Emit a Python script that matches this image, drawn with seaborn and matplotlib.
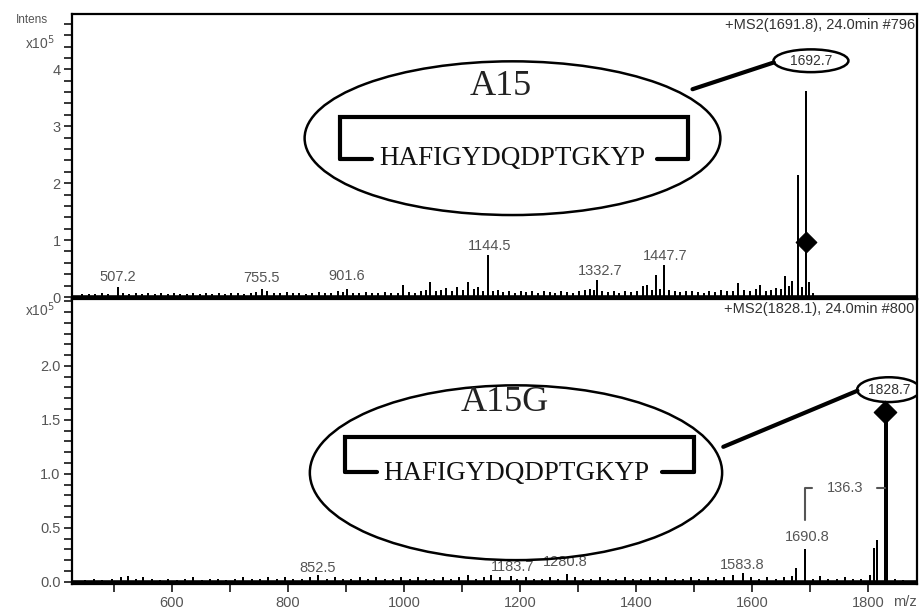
import matplotlib
matplotlib.use("Agg")
import matplotlib.pyplot as plt
import pandas as pd
import seaborn as sns
from matplotlib.patches import Ellipse
from matplotlib.ticker import FixedLocator, MultipleLocator, FormatStrFormatter

# MS2 spectrum of A15 (precursor 1691.8), intensities in units of 1e5
top_mz = [
    445, 457, 468, 480, 491, 507.2, 516, 527, 538, 549,
    560, 571, 582, 593, 604, 615, 626, 637, 648, 659,
    670, 681, 692, 703, 714, 725, 736, 745, 755.5, 765,
    776, 787, 798, 809, 820, 831, 842, 853, 864, 875,
    886, 895, 901.6, 912, 923, 934, 945, 956, 967, 978,
    989, 999, 1008, 1019, 1030, 1038, 1045, 1055, 1064, 1073,
    1082, 1091, 1101, 1111, 1120, 1128, 1136, 1144.5, 1153, 1162,
    1171, 1181, 1191, 1201, 1211, 1221, 1231, 1241, 1251, 1261,
    1271, 1281, 1291, 1301, 1311, 1320, 1327, 1332.7, 1341, 1351,
    1361, 1371, 1381, 1391, 1401, 1411, 1418, 1427, 1434, 1441,
    1447.7, 1456, 1466, 1476, 1486, 1496, 1506, 1516, 1526, 1536,
    1546, 1556, 1566, 1576, 1586, 1596, 1606, 1614, 1623, 1632,
    1641, 1650, 1657, 1664, 1669, 1678, 1685, 1692.7, 1698, 1704,
]
top_int = [
    0.03, 0.04, 0.03, 0.05, 0.04, 0.15, 0.06, 0.04, 0.05, 0.03,
    0.05, 0.04, 0.06, 0.03, 0.05, 0.04, 0.03, 0.06, 0.04, 0.05,
    0.03, 0.05, 0.04, 0.06, 0.05, 0.04, 0.06, 0.07, 0.13, 0.08,
    0.06, 0.05, 0.07, 0.05, 0.06, 0.04, 0.05, 0.07, 0.05, 0.06,
    0.08, 0.07, 0.12, 0.06, 0.05, 0.07, 0.06, 0.05, 0.07, 0.06,
    0.05, 0.20, 0.07, 0.06, 0.08, 0.10, 0.24, 0.09, 0.11, 0.14,
    0.09, 0.16, 0.11, 0.25, 0.12, 0.16, 0.09, 0.72, 0.08, 0.10,
    0.07, 0.09, 0.06, 0.08, 0.07, 0.09, 0.06, 0.08, 0.07, 0.06,
    0.09, 0.07, 0.06, 0.08, 0.10, 0.12, 0.11, 0.28, 0.09, 0.07,
    0.08, 0.06, 0.09, 0.07, 0.08, 0.17, 0.19, 0.10, 0.37, 0.12,
    0.54, 0.10, 0.08, 0.07, 0.09, 0.08, 0.07, 0.06, 0.09, 0.07,
    0.10, 0.08, 0.09, 0.23, 0.11, 0.08, 0.12, 0.20, 0.09, 0.11,
    0.14, 0.12, 0.35, 0.18, 0.27, 2.12, 0.15, 3.60, 0.25, 0.05,
]

# MS2 spectrum of A15G (precursor 1828.1)
bot_mz = [
    450, 466, 480, 497, 512, 524, 538, 551, 566, 580,
    594, 609, 623, 637, 652, 666, 680, 694, 709, 723,
    738, 752, 766, 781, 795, 809, 824, 838, 852.5, 867,
    881, 895, 909, 924, 938, 952, 967, 981, 995, 1010,
    1024, 1038, 1052, 1067, 1081, 1095, 1110, 1124, 1138, 1150,
    1165, 1183.7, 1195, 1210, 1224, 1238, 1252, 1266, 1280.8, 1295,
    1309, 1323, 1338, 1352, 1366, 1381, 1395, 1409, 1424, 1438,
    1452, 1466, 1481, 1495, 1509, 1523, 1538, 1552, 1566, 1583.8,
    1597, 1611, 1625, 1640, 1654, 1668, 1676, 1690.8, 1704, 1716,
    1730, 1745, 1759, 1773, 1788, 1803, 1810, 1814, 1828.7, 1831.5,
    1845, 1860,
]
bot_int = [
    0.01, 0.02, 0.01, 0.02, 0.03, 0.04, 0.02, 0.03, 0.02, 0.01,
    0.02, 0.01, 0.02, 0.03, 0.01, 0.02, 0.02, 0.01, 0.02, 0.03,
    0.02, 0.02, 0.03, 0.02, 0.03, 0.02, 0.02, 0.03, 0.05, 0.02,
    0.03, 0.02, 0.02, 0.03, 0.02, 0.03, 0.02, 0.02, 0.03, 0.02,
    0.03, 0.02, 0.02, 0.03, 0.02, 0.03, 0.05, 0.02, 0.03, 0.05,
    0.03, 0.04, 0.02, 0.03, 0.02, 0.02, 0.03, 0.02, 0.06, 0.03,
    0.02, 0.02, 0.03, 0.02, 0.02, 0.03, 0.02, 0.02, 0.03, 0.02,
    0.03, 0.02, 0.02, 0.03, 0.02, 0.03, 0.02, 0.03, 0.05, 0.07,
    0.03, 0.02, 0.03, 0.02, 0.03, 0.04, 0.12, 0.29, 0.02, 0.04,
    0.02, 0.02, 0.03, 0.02, 0.02, 0.05, 0.30, 0.38, 1.66, 1.66,
    0.02, 0.01,
]

top_labels = ["507.2", "755.5", "901.6", "1144.5", "1332.7", "1447.7"]
top_label_x = [507, 755, 901, 1148, 1338, 1450]
top_label_y = [0.35, 0.33, 0.37, 0.89, 0.46, 0.72]

bot_labels = ["852.5", "1183.7", "1280.8", "1583.8", "1690.8"]
bot_label_x = [852, 1188, 1277, 1583, 1694]
bot_label_y = [0.13, 0.14, 0.185, 0.155, 0.41]

top_yticks = [0, 1, 2, 3, 4]
bot_yticks = [0.0, 0.5, 1.0, 1.5, 2.0]

sequence = "HAFIGYDQDPTGKYP"
GREY = "#555555"


def stick_frame(mz, inten):
    xs, ys = [], []
    for m, h in zip(mz, inten):
        xs += [m, m, m]
        ys += [0, h, 0]
    return pd.DataFrame({"mz": xs, "intensity": ys})


def style_axis(ax, ylim, majors, minor, fmt):
    ax.set_xlim(428, 1884)
    ax.set_ylim(*ylim)
    ax.yaxis.set_major_locator(FixedLocator(majors))
    ax.yaxis.set_minor_locator(MultipleLocator(minor))
    ax.yaxis.set_major_formatter(FormatStrFormatter(fmt))
    ax.tick_params(axis="y", which="both", direction="out", length=6, width=1.3,
                   labelsize=10.5, labelcolor=GREY, pad=2)
    for sp in ax.spines.values():
        sp.set_visible(True)
        sp.set_linewidth(1.6)
        sp.set_color("black")
    ax.set_xlabel("")
    ax.set_ylabel("")
    ax.axhline(0, color="black", lw=2.6, zorder=1)


def peptide_box(ax, cx, cy, w, h, name, name_y, br_x0, br_x1, br_top, br_bot, stub, seq_y):
    ax.add_patch(Ellipse((cx, cy), w, h, fill=False, lw=1.8, ec="black", zorder=3))
    ax.text(cx - 20, name_y, name, family="Liberation Serif", fontsize=26,
            ha="center", va="center", color="#222222")
    ax.plot([br_x0, br_x0 + stub, None, br_x1 - stub, br_x1],
            [br_bot, br_bot, None, br_bot, br_bot], color="black", lw=3)
    ax.plot([br_x0, br_x0, br_x1, br_x1], [br_bot, br_top, br_top, br_bot],
            color="black", lw=3, solid_joinstyle="miter")
    ax.text(cx, seq_y, sequence, family="Liberation Serif", fontsize=19.5,
            ha="center", va="center", color="#111111")


sns.set_style("ticks")
plt.rcParams["font.family"] = ["Liberation Sans", "DejaVu Sans"]

fig = plt.figure(figsize=(9.2, 6.12), dpi=100)
ax1 = fig.add_axes([0.078, 0.5114, 0.919, 0.4656])
ax2 = fig.add_axes([0.078, 0.0458, 0.919, 0.4656])

# top panel
sns.lineplot(data=stick_frame(top_mz, top_int), x="mz", y="intensity", sort=False,
             estimator=None, color="black", lw=1.4, ax=ax1)
style_axis(ax1, (-0.035, 4.97), top_yticks, 0.2, "%d")
ax1.tick_params(axis="x", which="both", bottom=False, labelbottom=False)
for t, x, y in zip(top_labels, top_label_x, top_label_y):
    ax1.text(x, y, t, fontsize=10.5, color=GREY, ha="center", va="center")
sns.scatterplot(x=[1692.7], y=[0.96], marker="D", s=110, color="black",
                edgecolor="black", ax=ax1, zorder=5)
peptide_box(ax1, 1187, 2.79, 716, 2.70, "A15", 3.70, 890, 1490, 3.16, 2.42, 55, 2.44)
ax1.add_patch(Ellipse((1701, 4.15), 129, 0.40, fill=False, lw=1.8, ec="black"))
ax1.text(1701, 4.15, "1692.7", fontsize=10, ha="center", va="center", color="#333333")
ax1.plot([1497, 1637], [3.65, 4.12], color="black", lw=3)
ax1.text(0.997, 0.96, "+MS2(1691.8), 24.0min #796", transform=ax1.transAxes,
         ha="right", va="center", fontsize=10.5, color="#333333")

# bottom panel
sns.lineplot(data=stick_frame(bot_mz, bot_int), x="mz", y="intensity", sort=False,
             estimator=None, color="black", lw=1.4, ax=ax2)
style_axis(ax2, (-0.021, 2.62), bot_yticks, 0.1, "%.1f")
ax2.xaxis.set_major_locator(MultipleLocator(200))
ax2.xaxis.set_minor_locator(MultipleLocator(100))
ax2.xaxis.set_major_formatter(FormatStrFormatter("%d"))
ax2.tick_params(axis="x", which="both", direction="out", length=6, width=1.3,
                labelsize=10.5, labelcolor=GREY, pad=3)
for t, x, y in zip(bot_labels, bot_label_x, bot_label_y):
    ax2.text(x, y, t, fontsize=10.5, color=GREY, ha="center", va="center")
sns.scatterplot(x=[1828.7], y=[1.57], marker="D", s=130, color="black",
                edgecolor="black", ax=ax2, zorder=5)
peptide_box(ax2, 1193, 1.01, 710, 1.62, "A15G", 1.66, 899, 1499, 1.34, 1.02, 55, 1.0)
ax2.add_patch(Ellipse((1835, 1.78), 109, 0.23, fill=False, lw=1.8, ec="black"))
ax2.text(1835, 1.78, "1828.7", fontsize=10, ha="center", va="center", color="#333333")
ax2.plot([1550, 1781], [1.25, 1.77], color="black", lw=3)
ax2.plot([1690.8, 1690.8, 1702], [0.57, 0.87, 0.87], color=GREY, lw=1.5)
ax2.plot([1815, 1828.7], [0.87, 0.87], color=GREY, lw=1.5)
ax2.text(1760, 0.87, "136.3", fontsize=10.5, ha="center", va="center", color=GREY)
ax2.text(0.997, 0.965, "+MS2(1828.1), 24.0min #800", transform=ax2.transAxes,
         ha="right", va="center", fontsize=10.5, color="#333333")
ax2.text(0.999, -0.065, "m/z", transform=ax2.transAxes, ha="right", va="center",
         fontsize=10.5, color=GREY)

fig.text(32 / 920, 1 - 20 / 612, "Intens", fontsize=8.5, color=GREY, ha="center", va="center")
fig.text(40 / 920, 1 - 43 / 612, "x10$^5$", fontsize=10, color=GREY, ha="center", va="center")
fig.text(40 / 920, 1 - 310 / 612, "x10$^5$", fontsize=10, color=GREY, ha="center", va="center")

fig.savefig("out.png", dpi=100)
